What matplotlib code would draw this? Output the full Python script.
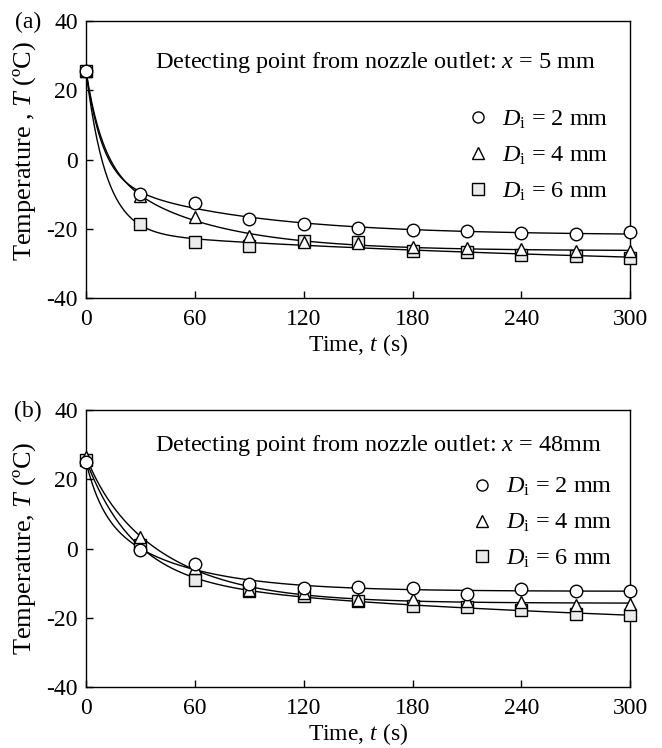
import numpy as np
import matplotlib
matplotlib.use("Agg")
import matplotlib.pyplot as plt
from matplotlib.lines import Line2D

plt.rcParams["font.family"] = ["Liberation Serif", "DejaVu Serif"]
plt.rcParams["mathtext.fontset"] = "custom"
plt.rcParams["mathtext.rm"] = "Liberation Serif"
plt.rcParams["mathtext.it"] = "Liberation Serif:italic"
plt.rcParams["axes.unicode_minus"] = False
plt.rcParams["font.size"] = 17

# data
t = [0, 30, 60, 90, 120, 150, 180, 210, 240, 270, 300]

a_d2 = [25.5, -10.0, -12.6, -17.2, -18.5, -19.7, -20.3, -20.7, -21.3, -21.6, -20.9]
a_d4 = [25.5, -10.6, -16.7, -22.2, -23.7, -24.2, -25.4, -25.5, -25.8, -26.5, -26.5]
a_d6 = [25.5, -18.7, -23.9, -24.9, -23.5, -23.9, -26.3, -26.8, -27.7, -27.9, -28.5]

b_d2 = [25.0, -0.5, -4.5, -10.1, -11.3, -11.1, -11.3, -13.0, -11.6, -12.3, -12.3]
b_d4 = [26.6, 3.4, -5.5, -12.0, -12.8, -14.9, -14.7, -15.1, -15.4, -16.4, -15.9]
b_d6 = [25.5, 1.0, -9.1, -12.2, -13.8, -15.1, -16.6, -16.8, -17.8, -19.0, -19.2]

labels = [r"$D_\mathrm{i}$ = 2 mm", r"$D_\mathrm{i}$ = 4 mm", r"$D_\mathrm{i}$ = 6 mm"]
titles = [r"Detecting point from nozzle outlet: $x$ = 5 mm",
          r"Detecting point from nozzle outlet: $x$ = 48mm"]
ylabels = [r"Temperature , $T$ (ºC)", r"Temperature, $T$ (ºC)"]


def fit_curve(x, y):
    # monotone double exponential decay: taus by grid search, rest by least squares
    x = np.asarray(x, float)
    y = np.asarray(y, float)
    w = np.ones_like(x)
    w[0] = 20.0  # pin the start value
    taus = np.geomspace(9, 300, 50)
    best = None
    for i, t1 in enumerate(taus):
        for t2 in taus[i:]:
            A = np.column_stack([np.ones_like(x), np.exp(-x / t1), np.exp(-x / t2)])
            coef, *_ = np.linalg.lstsq(A * w[:, None], y * w, rcond=None)
            if coef[1] < 0 or coef[2] < 0:
                continue
            err = np.sum(((A @ coef - y) * w) ** 2)
            if best is None or err < best[0]:
                best = (err, t1, t2, coef)
    _, t1, t2, c = best
    xs = np.linspace(0, 300, 400)
    return xs, c[0] + c[1] * np.exp(-xs / t1) + c[2] * np.exp(-xs / t2)


styles = [
    dict(marker="o", mfc="white"),
    dict(marker="^", mfc="white"),
    dict(marker="s", mfc="#ebebeb"),
]

fig = plt.figure(figsize=(6.62, 7.48), dpi=100)
ax_a = fig.add_axes([0.130, 0.6016, 0.822, 0.370])
ax_b = fig.add_axes([0.130, 0.0816, 0.822, 0.370])

panels = [
    (ax_a, [a_d2, a_d4, a_d6], "(a)", (0.698, 0.683), 0.852, 22, 0.53),
    (ax_b, [b_d2, b_d4, b_d6], "(b)", (0.705, 0.762), 0.874, 411, 0.5),
]

for k, (ax, series, tag, leg_xy, ty, tag_y, yl_y) in enumerate(panels):
    for ys in series:
        xs, yf = fit_curve(t, ys)
        ax.plot(xs, yf, color="black", lw=1.0, zorder=2)
    # squares first, circles on top
    for idx in [2, 1, 0]:
        ax.plot(t, series[idx], ls="none", mec="black", mew=1.0, ms=9,
                zorder=3 + (2 - idx), clip_on=False, **styles[idx])

    handles = [Line2D([], [], ls="none", mec="black", mew=1.0, ms=8, **styles[i])
               for i in range(3)]
    ax.legend(handles, labels, loc="upper left", bbox_to_anchor=leg_xy,
              frameon=False, handletextpad=0.5, labelspacing=0.56,
              borderaxespad=0, borderpad=0, handlelength=1.0, fontsize=17.5)

    ax.text(0.127, ty, titles[k], transform=ax.transAxes,
            fontsize=17.5, ha="left", va="center")

    ax.set_xlim(0, 300)
    ax.set_ylim(-40, 40)
    ax.set_xticks([0, 60, 120, 180, 240, 300])
    ax.set_yticks([-40, -20, 0, 20, 40])
    ax.tick_params(direction="in", length=5, width=1.0, labelsize=17)
    ax.tick_params(axis="x", pad=8)
    ax.tick_params(axis="y", pad=6)
    for sp in ax.spines.values():
        sp.set_linewidth(1.0)
    ax.set_xlabel(r"Time, $t$ (s)", fontsize=17)
    ax.xaxis.set_label_coords(0.5, -0.124)
    ax.set_ylabel(ylabels[k], fontsize=19)
    ax.yaxis.set_label_coords(-0.088, yl_y)
    fig.text(28 / 662, 1 - tag_y / 748, tag, fontsize=17,
             ha="center", va="center")

fig.savefig("out.png", dpi=100)
